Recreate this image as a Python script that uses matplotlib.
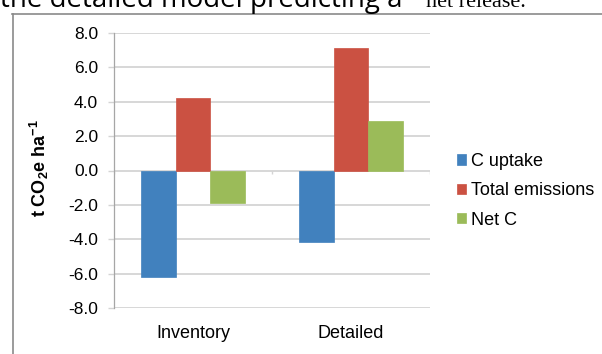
import numpy as np
import matplotlib.pyplot as plt
from matplotlib.lines import Line2D

plt.rcParams['font.family'] = ['Liberation Sans', 'DejaVu Sans']
plt.rcParams['mathtext.fontset'] = 'custom'
plt.rcParams['mathtext.bf'] = 'Liberation Sans:bold'
plt.rcParams['mathtext.rm'] = 'Liberation Sans'

# data
categories = ['Inventory', 'Detailed']
c_uptake = [-6.2, -4.15]
total_emissions = [4.2, 7.1]
net_c = [-1.9, 2.9]
series_names = ['C uptake', 'Total emissions', 'Net C']
yticks = np.arange(-8, 8.1, 2)

colors = ['#4181BE', '#CB5142', '#9BBB59']
grid_c = '#d4d4d4'

fig = plt.figure(figsize=(6.02, 3.54), dpi=100)
W, H = 602, 354
ax = fig.add_axes([114 / W, 1 - 308 / H, 316 / W, 275 / H])

x = np.arange(len(categories))
w = 0.221
for k, (vals, name) in enumerate(zip([c_uptake, total_emissions, net_c], series_names)):
    ax.bar(x + (k - 1) * w, vals, width=w, color=colors[k], label=name,
           edgecolor=colors[k], linewidth=0.5, zorder=3)

ax.set_xlim(-0.5, len(categories) - 0.5)
ax.set_ylim(-8, 8)
ax.set_yticks(yticks)
ax.set_yticklabels(['%.1f' % v for v in yticks])
for v in yticks:
    ax.axhline(v, color=grid_c, lw=1.3, zorder=1)

# category axis at zero with ticks between groups
ax.vlines(np.arange(len(categories) + 1) - 0.5, -0.2, 0, color=grid_c, lw=1.0, zorder=1)

for s in ['top', 'right', 'bottom']:
    ax.spines[s].set_visible(False)
ax.spines['left'].set_color('#a6a6a6')
ax.spines['left'].set_linewidth(0.9)
ax.tick_params(axis='y', length=4.5, color=grid_c, width=1.0, labelsize=12.5, pad=7)
ax.set_xticks(x)
ax.set_xticklabels(categories)
ax.tick_params(axis='x', length=0, labelsize=13, pad=12)

ax.set_ylabel(r't CO$_\mathbf{2}$e ha$^\mathbf{-1}$', fontweight='bold', fontsize=13)
ax.yaxis.set_label_coords(-0.2, 0.51)

fig.legend(loc='upper left', bbox_to_anchor=(457 / W, 1 - 153 / H), frameon=False,
           fontsize=13, handlelength=0.5, handleheight=0.5, handletextpad=0.25,
           labelspacing=0.68, borderpad=0, borderaxespad=0)

# outer chart frame (cropped at right and bottom)
fig.add_artist(Line2D([12.5 / W, 12.5 / W], [0, 1 - 14 / H], color='#8a8a8a', lw=1.2))
fig.add_artist(Line2D([12 / W, 1], [1 - 14 / H, 1 - 14 / H], color='#8a8a8a', lw=1.2))

# caption line from the page, cut off at the top
fig.text(0.0, 1 - 7 / H, 'the detailed model predicting a', family='Open Sans',
         fontsize=20, va='baseline', ha='left')
fig.text(426 / W, 1 - 7 / H, 'net release.', family='Liberation Serif',
         fontsize=16, va='baseline', ha='left')

fig.savefig('out.png', dpi=100)
